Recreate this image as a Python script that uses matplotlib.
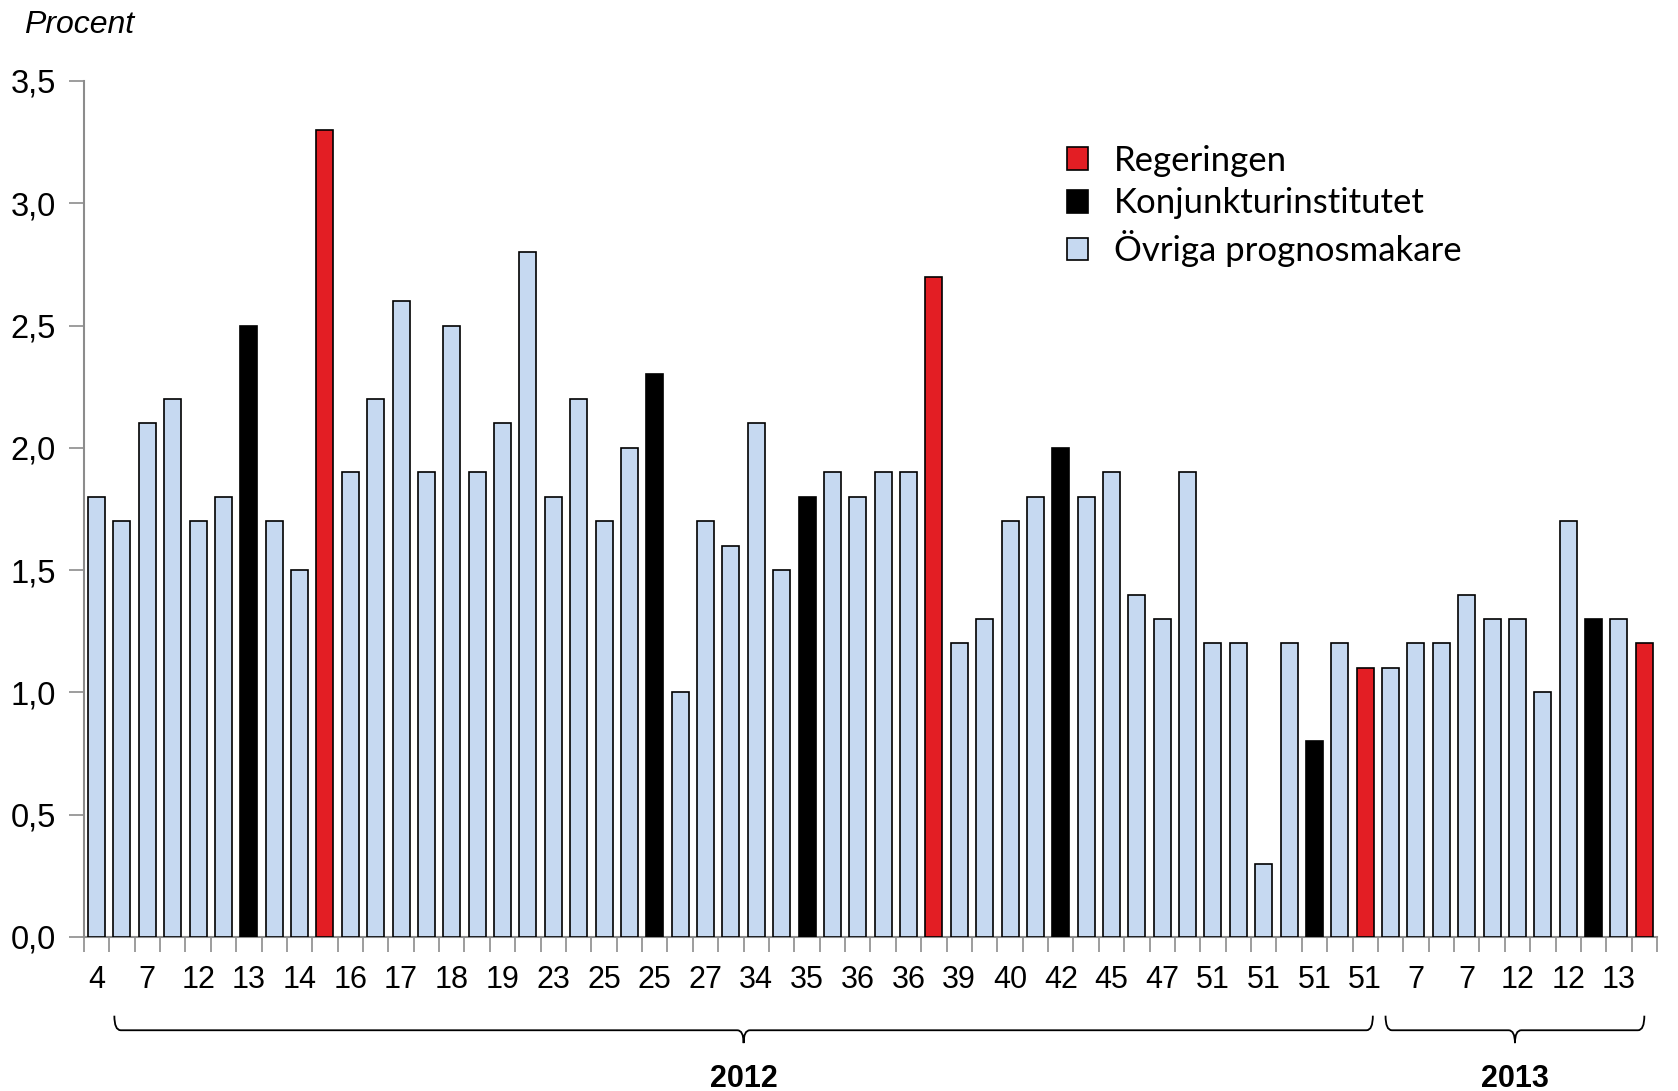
import numpy as np
import matplotlib
matplotlib.use('Agg')
import matplotlib.pyplot as plt
from matplotlib.patches import Patch, PathPatch
from matplotlib.path import Path
from matplotlib.transforms import blended_transform_factory

# Prognoser, procent
values = [1.8, 1.7, 2.1, 2.2, 1.7, 1.8, 2.5, 1.7, 1.5, 3.3,
          1.9, 2.2, 2.6, 1.9, 2.5, 1.9, 2.1, 2.8, 1.8, 2.2,
          1.7, 2.0, 2.3, 1.0, 1.7, 1.6, 2.1, 1.5, 1.8, 1.9,
          1.8, 1.9, 1.9, 2.7, 1.2, 1.3, 1.7, 1.8, 2.0, 1.8,
          1.9, 1.4, 1.3, 1.9, 1.2, 1.2, 0.3, 1.2, 0.8, 1.2,
          1.1, 1.1, 1.2, 1.2, 1.4, 1.3, 1.3, 1.0, 1.7, 1.3,
          1.3, 1.2]
# o = övriga, k = Konjunkturinstitutet, r = Regeringen
source = ['o', 'o', 'o', 'o', 'o', 'o', 'k', 'o', 'o', 'r',
          'o', 'o', 'o', 'o', 'o', 'o', 'o', 'o', 'o', 'o',
          'o', 'o', 'k', 'o', 'o', 'o', 'o', 'o', 'k', 'o',
          'o', 'o', 'o', 'r', 'o', 'o', 'o', 'o', 'k', 'o',
          'o', 'o', 'o', 'o', 'o', 'o', 'o', 'o', 'k', 'o',
          'r', 'o', 'o', 'o', 'o', 'o', 'o', 'o', 'o', 'k',
          'o', 'r']
week_labels = ['4', '7', '12', '13', '14', '16', '17', '18', '19', '23',
               '25', '25', '27', '34', '35', '36', '36', '39', '40', '42',
               '45', '47', '51', '51', '51', '51', '7', '7', '12', '12', '13']
years = ['2012', '2013']
year_spans = [(0.7, 50.3), (50.8, 61.0)]

colors = {'o': '#C6D9F1', 'k': '#000000', 'r': '#E31E24'}
names = {'r': 'Regeringen', 'k': 'Konjunkturinstitutet', 'o': 'Övriga prognosmakare'}

plt.rcParams['font.family'] = ['Liberation Sans', 'DejaVu Sans']
grey = '#8C8C8C'
narrow = ['Liberation Sans Narrow', 'Liberation Sans']

fig = plt.figure(figsize=(16.78, 10.91), dpi=100)
ax = fig.add_axes([0.050, 0.1412, 0.9375, 0.7846])

x = np.arange(len(values))
ax.bar(x, values, width=0.67, color=[colors[s] for s in source],
       edgecolor='black', linewidth=1.2, zorder=3)

ax.set_xlim(-0.5, len(values) - 0.5)
ax.set_ylim(0, 3.5)
yt = np.arange(0, 3.51, 0.5)
ax.set_yticks(yt)
ax.set_yticklabels([f'{v:.1f}'.replace('.', ',') for v in yt])

ax.set_xticks(x[::2])
ax.set_xticklabels(week_labels, family=narrow)
ax.set_xticks(np.arange(-0.5, len(values)), minor=True)
ax.tick_params(axis='x', which='major', length=0, pad=20, labelsize=22)
ax.tick_params(axis='x', which='minor', length=11, width=1.2, color=grey)
ax.tick_params(axis='y', length=11, width=1.2, color=grey, pad=9, labelsize=23.5)

for s in ['top', 'right']:
    ax.spines[s].set_visible(False)
for s in ['left', 'bottom']:
    ax.spines[s].set_color(grey)
    ax.spines[s].set_linewidth(1.5)

fig.text(0.0145, 0.977, 'Procent', fontsize=23, style='italic', ha='left', va='center')

# klammer under årtalen
trans = blended_transform_factory(ax.transData, ax.transAxes)
y_top, y_mid, y_tip = -0.092, -0.109, -0.124
rx = 0.25
for yr, (x0, x1) in zip(years, year_spans):
    xm = (x0 + x1) / 2
    verts = [(x0, y_top), (x0, y_mid), (x0 + rx, y_mid),
             (xm - rx, y_mid), (xm, y_mid), (xm, y_tip),
             (xm, y_mid), (xm + rx, y_mid),
             (x1 - rx, y_mid), (x1, y_mid), (x1, y_top)]
    codes = [Path.MOVETO, Path.CURVE3, Path.CURVE3,
             Path.LINETO, Path.CURVE3, Path.CURVE3,
             Path.CURVE3, Path.CURVE3,
             Path.LINETO, Path.CURVE3, Path.CURVE3]
    ax.add_patch(PathPatch(Path(verts, codes), fill=False, edgecolor='black',
                           linewidth=1.3, transform=trans, clip_on=False))
    ax.text(xm, -0.166, yr, transform=trans, ha='center', va='center',
            fontsize=22, fontweight='bold', family=narrow)

handles = [Patch(facecolor=colors[k], edgecolor='black', linewidth=1.2, label=names[k])
           for k in ['r', 'k', 'o']]
fig.legend(handles=handles, loc='upper left', bbox_to_anchor=(0.617, 0.896),
           frameon=False, handlelength=0.62, handleheight=0.62,
           handletextpad=0.75, labelspacing=0.31, prop={'family': 'Lato', 'size': 25})

plt.savefig('out.png', dpi=100)
